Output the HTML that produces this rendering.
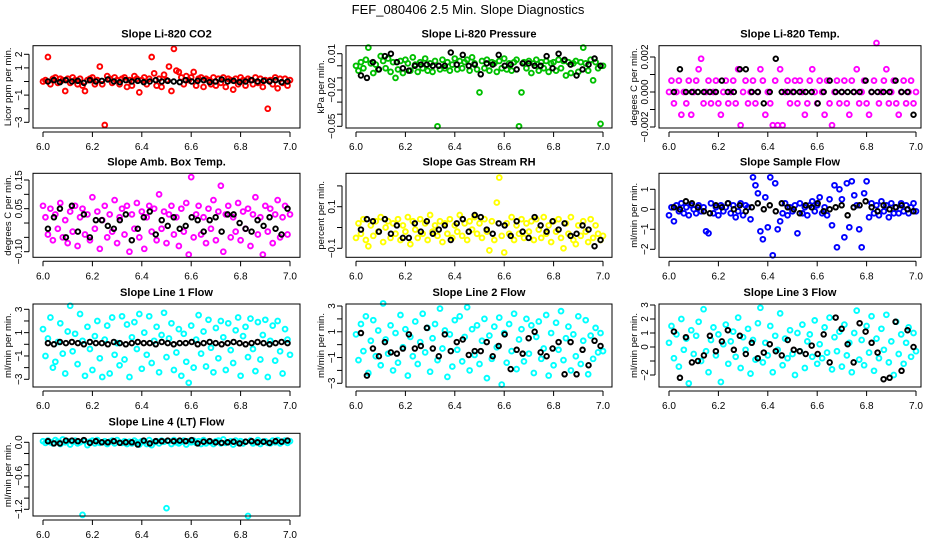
<!DOCTYPE html>
<html><head><meta charset="utf-8"><style>
html,body{margin:0;padding:0;background:#fff;}
svg{display:block;font-family:"Liberation Sans",sans-serif;}
</style></head><body>
<svg id="chart" width="936" height="540" viewBox="0 0 936 540">
<rect width="936" height="540" fill="#fff"/>
<text x="468" y="14" text-anchor="middle" font-size="13">FEF_080406  2.5 Min. Slope Diagnostics</text>
</svg>
<script>
const xTicks = [6.0, 6.2, 6.4, 6.6, 6.8, 7.0];
const co2Red = [0,.1,1.8,-.2,.2,.3,-.1,.2,.1,-.7,.2,-.1,.3,.1,-.2,.2,-.3,-.7,.1,.2,.3,-.2,.1,1.1,-.2,-3.2,.4,.2,-.1,.3,.1,-.2,.2,.3,-.4,.1,-.3,.4,.2,-.8,.1,.3,-.2,.2,1.8,.6,-.3,.2,-.4,.5,.1,1.1,-.7,2.4,.8,.7,.3,-.2,.4,.1,.3,.7,-.3,.2,.3,-.4,.2,.1,-.2,.3,-.3,.2,-.1,.3,-.4,.2,.1,-.6,.2,-.2,.3,.1,-.3,.2,.1,-.2,.3,-.1,.2,-.4,.1,-2,.1,-.2,.3,-.5,.2,-.1,.2,-.3,.1];
const co2Black = [0,.1,-.05,.1,0,.05,-.1,.1,0,.05,.15,0,-.05,.1,0,.05,-.05,0,.1,0,.05,0,-.05,.1,0,.05,.1,-.05,0,.15,0,.05,-.05,0,.1,0,.05,0,.1,-.05,0];
const prGreen = [0,-.004,.003,-.002,.005,.015,.002,-.006,.001,-.003,.008,.004,-.002,.006,-.005,.003,-.01,-.003,.004,-.006,.005,.002,-.004,.007,.001,-.005,.003,-.002,.006,-.004,.002,-.005,.004,-.05,-.003,.005,-.002,.003,-.004,.001,.006,-.003,.004,-.002,.003,.005,-.004,.007,.002,-.003,-.022,.004,-.002,.005,-.004,.003,.002,-.005,.004,-.002,.006,-.003,.002,-.004,.003,.005,-.05,-.022,.003,-.002,.004,-.006,.002,.005,-.004,.003,-.002,.004,-.005,.002,.003,-.004,.005,-.002,.004,-.008,.003,-.006,.002,.004,-.005,.003,.015,.002,-.004,.005,-.012,.003,-.002,-.048,0];
const prBlack = [-.008,-.01,.003,-.003,.008,.01,.003,-.002,-.004,0,.001,.001,0,0,0,.011,.001,.009,0,.001,-.007,.002,.001,.009,0,.001,-.003,.002,.002,0,0,.008,-.002,.01,.005,.001,-.008,-.003,.001,.006,0];
const tempMag = [0,.00065,-.00065,0,.00065,-.0013,0,-.00065,.00065,-.0013,0,.00065,.0013,.0019,-.00065,0,.00065,-.00065,0,.00065,-.00065,-.0013,0,.00065,-.00065,0,.00065,-.00065,.0013,-.0019,0,.00065,-.00065,0,.00065,-.00065,0,.0013,.00065,-.0013,0,-.00065,-.0019,.00065,-.0019,.0013,-.0019,0,.00065,-.00065,0,.00065,-.00065,.00065,0,-.0013,-.00065,.00065,.0013,0,-.00065,.00065,0,-.0013,.00065,-.00065,-.0019,0,.00065,-.00065,0,.00065,-.00065,-.0013,.00065,0,.0013,-.00065,0,.00065,-.00065,-.0013,0,.00065,.0028,-.00065,0,.00065,.0013,-.00065,0,.00065,-.00065,-.0013,0,.00065,-.00065,0,.00065,-.00065,0];
const tempBlack = [0,.0013,0,0,0,0,0,0,.00065,0,0,.0013,.0013,0,0,-.00065,0,.0019,0,0,0,0,0,0,-.00065,0,.00065,0,0,0,0,0,.00065,0,0,0,0,.00065,0,0,-.0013];
const ambMag = [.06,.02,-.04,.05,-.06,.03,-.02,.07,-.05,.01,-.07,.04,-.03,.06,-.08,.02,.05,-.04,.03,-.06,.09,-.02,.04,-.09,.01,.06,-.05,.03,-.03,.08,-.07,.02,.05,-.04,.06,-.1,.03,-.02,.07,-.05,.04,-.09,.02,.06,-.03,.05,-.06,.1,-.02,.04,-.07,.03,.06,-.04,.02,-.08,.05,-.03,.07,-.11,.16,-.05,.03,.06,-.04,.02,-.07,.05,-.02,.08,-.06,.04,.13,-.1,.03,.06,-.05,.02,-.03,.07,-.06,.04,-.02,.05,-.08,.03,.09,-.04,.02,-.11,.06,-.03,.05,-.07,.03,.08,-.05,.02,.06,-.04,.03];
const ambBlack = [-.02,.02,.05,-.05,.06,-.03,.03,-.05,.01,.01,-.01,-.02,.01,.03,-.06,-.02,.02,.04,-.04,.01,-.01,.02,-.02,-.01,.02,.01,-.03,.01,.02,-.03,.03,.03,0,-.02,-.03,.01,-.01,.02,-.02,-.04,.05];
const rhYellow = [-.05,.02,-.03,.04,-.06,-.09,.01,-.04,.03,-.02,.05,-.07,0,.03,-.05,.02,-.03,.04,-.06,.01,-.02,.05,-.08,.03,-.01,-.05,.04,-.03,.02,-.06,.06,-.02,.01,-.04,.03,-.07,.02,-.03,.04,-.05,.01,-.02,.06,-.04,.02,-.06,.03,-.01,.05,-.03,.02,-.05,.04,-.02,-.11,.03,-.06,.12,.24,-.04,-.12,.02,-.03,.05,-.06,.01,-.03,.04,-.05,.02,-.02,.03,-.06,.04,-.01,-.05,.05,-.03,.01,-.07,.03,-.02,.04,-.05,-.1,.02,-.03,.05,-.06,-.08,.01,-.04,.03,-.02,-.07,.04,-.05,.01,-.03,-.06,-.04];
const rhBlack = [-.01,.04,.03,-.02,.04,-.03,.01,-.05,-.05,.02,-.02,.03,-.03,-.01,.01,-.06,.02,.04,-.02,.06,.05,-.01,-.03,.02,.01,-.04,.03,-.02,-.05,.05,.01,-.02,.03,-.01,.02,-.04,-.03,.01,-.01,-.09,-.06];
const flowBlue = [-.3,.1,-.6,.2,-.1,.3,-.2,.1,-.3,.2,0,-.2,.2,-.1,.1,-1.1,-1.2,.3,-.2,.1,-.3,.2,-.1,.1,.3,-.2,.2,-.4,-.1,.3,-.3,.2,.1,-.5,1.6,1.2,.8,-1.1,-1.5,.6,-.9,1.6,-2.3,1.3,-1.0,-.6,-.2,.3,-.3,.1,-.1,.2,-1.2,.3,-.2,.1,-.3,.2,.4,-.1,.2,.6,-.2,.1,-.3,.5,-.8,1.2,-1.9,1.0,.5,-1.4,1.3,-.9,1.4,.7,.2,-1.0,-1.9,.8,1.4,-.4,.3,-.2,.2,-.3,.4,-.1,.2,-.4,.3,-.2,.1,-.2,.3,-.1,.2,-.2,.1,.3,-.1];
const flowBlack = [.1,0,.4,.3,.1,-.1,-.2,.2,.1,.3,0,.2,-.1,.1,.3,0,.2,-.1,.3,.1,0,-.2,.2,.1,.3,-.1,0,.1,.2,-.3,.1,.2,.4,.1,-.1,.2,0,.1,.2,0,-.1];
const line1Cyan = [1.3,-1,.5,2.3,-2,-1.5,.2,1.8,-.8,-2.5,1.1,3.3,-.6,.9,-1.7,2.6,.3,-2.7,1.5,-.4,-2.2,.7,2,-1.2,-2.8,.4,1.6,-2.5,2.3,-.9,.1,-1.8,2.4,-1.3,1.7,-2.8,.6,1.9,-.4,2.6,-2.1,1,-.9,2.4,-1.6,.3,1.5,-2.4,.8,2.7,-1.1,.5,1.8,-2.2,-.7,1.3,-2.7,.9,-1.5,-3.3,1.6,-2,.4,2.5,-.8,1.1,-1.9,2.1,-.3,-2.4,1.4,-1.2,2,.6,-2.2,1.8,-.5,-1.6,1.2,2.3,-2.7,.7,1.5,-1.1,2.2,-.4,-2.3,1.9,-1.3,.8,2.1,-2.8,.3,1.6,-1.4,2,-.6,-2.5,1.3,.4,-.9];
const line1Black = [.1,0,.2,.1,.2,.1,0,.2,.1,.1,0,.2,.1,0,.1,.2,.1,.1,0,.2,.1,0,.1,.1,.2,0,.1,.2,.1,0,.1,.2,.1,0,.1,.2,.1,0,.1,.2,.1];
const line2Cyan = [.8,-1.2,1.6,-.5,2.2,-2.2,.3,1.9,-.9,1.1,-1.6,3.2,.4,-.7,1.5,-2,.9,-1.4,2.3,-.2,1.2,-2.4,.6,-.9,1.8,-1.5,.2,2.4,-.6,1.3,-2.1,.5,1.6,-1.2,2.8,-.3,1.1,-2.5,.8,-1.7,1.9,-.4,2.2,-1.3,.6,2.9,-2,1.2,-.8,1.5,-1.5,.3,2,-2.6,.7,-1.1,1.4,-.2,2.1,-3.1,.9,-1.4,1.6,-.5,2.4,-1.9,.4,1.2,-1.3,2,-.7,1.5,-2.2,.6,1.8,-1.1,-.3,2.3,-2.4,.9,-1.6,1.7,-.4,2.6,-1.2,.5,1.4,-2,.8,-.9,2.2,-1.5,.3,1.9,-2.3,.7,-1.1,1.3,-.6,.9,-.5];
const line2Black = [.9,-2.4,-.3,-.9,.2,-.6,-.7,-.3,.8,-.3,-.1,1.3,-.3,-.9,.8,-.5,.2,.4,-.8,-.5,-.5,.2,-.9,-.1,.8,-1.9,-.4,-.7,.5,1,-.6,-.9,-.3,.2,-2.3,.2,-2.3,-.4,-1.6,.3,-.1];
const line3Cyan = [.3,1.5,-.8,.9,-1.4,2,-.2,.6,-2.6,1.2,-.5,.8,1.8,-1,2.7,-.3,-1.8,.5,1.4,-.6,.9,-2.5,.2,1.6,-1.2,.4,1.1,-.7,2.1,-1.5,.7,-.2,1.3,-1.9,.5,-.9,1.7,2.8,-1.1,.3,-.6,1.5,-1.8,.8,-.2,2.4,-1.3,.6,-.8,1.2,-.5,-2,1,-.3,1.6,-1.5,.4,.9,-.7,1.9,-1.2,.2,-.8,1.4,-.4,2.1,-1.6,.7,-.3,1.1,-1.4,1.6,-.6,.3,-1.8,1,2.6,-.9,.5,-1.3,1.5,-.4,2.2,-1.7,.6,-.8,1.3,-.2,2.3,-1.1,.4,-2,1.8,-.5,.9,-1.2,.3,1.4,-.7,1,-.3];
const line3Black = [1.1,-2.2,.7,-1.1,-1,-.6,.8,-.3,.4,1.2,-.2,.8,-.5,.3,-.8,-.4,.2,-.3,-.6,.5,-.2,-.3,-.5,.1,-.5,.9,-1.1,2.1,1.3,.2,-1.1,1.7,1.1,.3,-.4,-2.3,-2.2,1.8,-1.7,1.2,0];
const lt4Cyan = [.02,-.01,.03,0,-.02,.04,.01,-.03,.05,0,.02,-.04,.01,.03,-.02,0,-1.3,.02,-.05,.01,.03,-.02,.04,-.01,0,.02,-.03,.01,.03,-.02,.04,0,-.01,.02,-.03,.01,-.02,.03,0,-.04,.02,.01,-.03,.04,-.05,0,.02,-.02,.03,.01,-1.18,.02,-.03,.04,0,-.02,.01,.03,-.04,.02,0,.03,-.01,.02,-.03,.04,-.02,.01,0,-.03,.02,.03,-.02,.05,-.01,0,.02,-.04,.03,-.01,.02,-.02,.01,-1.32,.03,-.02,0,.04,-.03,.01,.02,-.01,-.02,.03,0,.04,-.02,.01,.03,-.01,.02];
const lt4Black = [.02,-.02,-.02,.03,.03,.02,.04,-.01,.02,0,0,.02,-.01,0,0,-.04,.03,-.02,.02,.02,.03,.02,.03,.02,.04,-.02,.01,.02,0,-.01,0,.01,-.02,.01,.02,0,.01,-.01,.02,.01,.03];

const colL = [33, 346, 659];
const colW = [267, 266, 262];
const rowT = [45.7, 173.3, 304, 433.3];
const rowB = [128, 257.3, 387, 516];

const panels = [
 {name:'co2',title:'Slope Li-820 CO2',ylab:'Licor ppm per min.',c:0,r:0,color:'#ff0000',pts:co2Red,blk:co2Black,cal:[2,54.3,-3,122.3],ticks:[2,1,0,-1,-2,-3],labels:[[2,'2'],[1,'1'],[-1,'\u22121'],[-3,'\u22123']]},
 {name:'pressure',title:'Slope Li-820 Pressure',ylab:'kPa per min.',c:1,r:0,color:'#00c000',pts:prGreen,blk:prBlack,cal:[.01,53.7,-.05,126.3],ticks:[.01,0,-.01,-.02,-.03,-.04,-.05],labels:[[.01,'0.01'],[-.02,'\u22120.02'],[-.05,'\u22120.05']]},
 {name:'temp',title:'Slope Li-820 Temp.',ylab:'degees C per min.',c:2,r:0,color:'#ff00ff',pts:tempMag,blk:tempBlack,cal:[.002,57,-.002,127],ticks:[.002,.001,0,-.001,-.002],labels:[[.002,'0.002'],[0,'0.000'],[-.002,'\u22120.002']]},
 {name:'amb-box',title:'Slope Amb. Box Temp.',ylab:'degrees C per min.',c:0,r:1,color:'#ff00ff',pts:ambMag,blk:ambBlack,cal:[.15,180,-.1,251.7],ticks:[.15,.1,.05,0,-.05,-.1],labels:[[.15,'0.15'],[.05,'0.05'],[-.1,'\u22120.10']]},
 {name:'rh',title:'Slope Gas Stream RH',ylab:'percent per min.',c:1,r:1,color:'#ffff00',pts:rhYellow,blk:rhBlack,cal:[.1,206.7,-.1,248.3],ticks:[.2,.1,0,-.1],labels:[[.1,'0.1'],[-.1,'\u22120.1']]},
 {name:'sample-flow',title:'Slope Sample Flow',ylab:'ml/min per min.',c:2,r:1,color:'#0000ff',pts:flowBlue,blk:flowBlack,cal:[1,189.3,-2,249.3],ticks:[1,0,-1,-2],labels:[[1,'1'],[0,'0'],[-1,'\u22121'],[-2,'\u22122']]},
 {name:'line1',title:'Slope Line 1 Flow',ylab:'ml/min per min.',c:0,r:2,color:'#00ffff',pts:line1Cyan,blk:line1Black,cal:[3,309.3,-3,379.3],ticks:[3,2,1,0,-1,-2,-3],labels:[[3,'3'],[1,'1'],[-1,'\u22121'],[-3,'\u22123']]},
 {name:'line2',title:'Slope Line 2 Flow',ylab:'ml/min per min.',c:1,r:2,color:'#00ffff',pts:line2Cyan,blk:line2Black,cal:[3,306,-3,383.3],ticks:[3,2,1,0,-1,-2,-3],labels:[[3,'3'],[1,'1'],[-1,'\u22121'],[-3,'\u22123']]},
 {name:'line3',title:'Slope Line 3 Flow',ylab:'ml/min per min.',c:2,r:2,color:'#00ffff',pts:line3Cyan,blk:line3Black,cal:[3,305,-2,375],ticks:[3,2,1,0,-1,-2],labels:[[3,'3'],[2,'2'],[1,'1'],[0,'0'],[-2,'\u22122']]},
 {name:'line4',title:'Slope Line 4 (LT) Flow',ylab:'ml/min per min.',c:0,r:3,color:'#00ffff',pts:lt4Cyan,blk:lt4Black,cal:[0,442.3,-1.2,509.3],ticks:[0,-.2,-.4,-.6,-.8,-1,-1.2],labels:[[0,'0.0'],[-.6,'\u22120.6'],[-1.2,'\u22121.2']]}
];

const NS='http://www.w3.org/2000/svg';
const svg=document.getElementById('chart');
function mk(tag, attrs, parent){const e=document.createElementNS(NS,tag);for(const k in attrs)e.setAttribute(k,attrs[k]);parent.appendChild(e);return e;}

panels.forEach(p=>{
  const L=colL[p.c], R=L+colW[p.c], T=rowT[p.r], B=rowB[p.r];
  const x0=L+10, x1=L+257;
  const xs=v=>x0+(v-6)*(x1-x0);
  const ys=v=>p.cal[1]+(v-p.cal[0])*(p.cal[3]-p.cal[1])/(p.cal[2]-p.cal[0]);
  const g=mk('g',{},svg);
  
  
  const t=mk('text',{x:(L+R)/2,y:T-8,'text-anchor':'middle','font-size':'11','font-weight':'bold'},g);
  t.textContent=p.title;
  
  
  const yl=mk('text',{x:0,y:0,transform:`translate(${L-22},${(T+B)/2}) rotate(-90)`,'text-anchor':'middle','font-size':'9.5'},g);
  yl.textContent=p.ylab;
  
  
  const pg=mk('g',{fill:'none','stroke-width':'1.9'},g);
  
  
  p.pts.forEach((v,i)=>{
    const c=mk('circle',{cx:xs(6+i/(p.pts.length-1)),cy:ys(v),r:2.4,stroke:p.color},pg);
    
    
  });
  p.blk.forEach((v,i)=>{
    const c=mk('circle',{cx:xs(6.02+0.97*i/(p.blk.length-1)),cy:ys(v),r:2.3,stroke:'#000'},pg);
    
    
  });
  const bx=mk('rect',{x:L,y:T,width:R-L,height:B-T,fill:'none',stroke:'#000','stroke-width':'1'},g);
  
  
  const xa=mk('g',{},g);
  
  
  mk('line',{x1:xs(6),x2:xs(7),y1:B+4,y2:B+4,stroke:'#000'},xa);
  xTicks.forEach(v=>{
    mk('line',{x1:xs(v),x2:xs(v),y1:B+4,y2:B+9,stroke:'#000'},xa);
    const tl=mk('text',{x:xs(v),y:B+22,'text-anchor':'middle','font-size':'10'},xa);
    tl.textContent=v.toFixed(1);
    
    
  });
  const ya=mk('g',{},g);
  
  
  const tv=p.ticks;
  mk('line',{x1:L-4,x2:L-4,y1:ys(tv[0]),y2:ys(tv[tv.length-1]),stroke:'#000'},ya);
  tv.forEach(v=>mk('line',{x1:L-9,x2:L-4,y1:ys(v),y2:ys(v),stroke:'#000'},ya));
  p.labels.forEach(([v,s])=>{
    const tl=mk('text',{x:0,y:0,transform:`translate(${L-11},${ys(v)}) rotate(-90)`,'text-anchor':'middle','font-size':'10'},ya);
    tl.textContent=s;
    
    
  });
});
</script>
</body></html>
